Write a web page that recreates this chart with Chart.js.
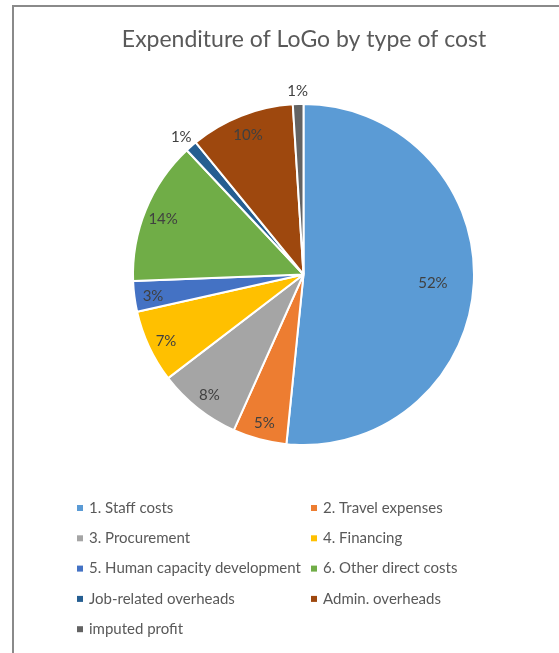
<!DOCTYPE html>
<html>
<head>
<meta charset="utf-8">
<script src="https://cdn.jsdelivr.net/npm/chart.js@4/dist/chart.umd.min.js"></script>
<style>
  html, body { margin: 0; padding: 0; background: #ffffff; }
  #wrap { width: 559px; height: 653px; }
</style>
</head>
<body>
<div id="wrap"><canvas id="c" width="559" height="653"></canvas></div>
<script>
const chartTitle = "Expenditure of LoGo by type of cost";
const categories = [
  "1. Staff costs",
  "2. Travel expenses",
  "3. Procurement",
  "4. Financing",
  "5. Human capacity development",
  "6. Other direct costs",
  "Job-related overheads",
  "Admin. overheads",
  "imputed profit"
];
const shareValues = [51.6, 5.1, 7.9, 6.9, 2.9, 13.6, 1.1, 9.9, 1.0];
const sliceColors = ["#5B9BD5", "#ED7D31", "#A5A5A5", "#FFC000", "#4472C4", "#70AD47", "#255E91", "#9E480E", "#636363"];

const FONT = "Lato, 'Open Sans', 'Liberation Sans', sans-serif";

const framePlugin = {
  id: 'frame',
  beforeDraw(chart) {
    const ctx = chart.ctx;
    ctx.save();
    ctx.fillStyle = '#ffffff';
    ctx.fillRect(0, 0, chart.width, chart.height);
    ctx.strokeStyle = '#8a8a8a';
    ctx.lineWidth = 2;
    ctx.strokeRect(13, 6, chart.width + 20, chart.height + 20);
    ctx.restore();
  }
};

const textPlugin = {
  id: 'texts',
  afterDatasetsDraw(chart) {
    const ctx = chart.ctx;
    const meta = chart.getDatasetMeta(0);
    const data = chart.data.datasets[0].data;
    const total = data.reduce((a, b) => a + b, 0);
    ctx.save();
    // data labels
    ctx.font = "15px " + FONT;
    ctx.fillStyle = '#404040';
    ctx.textAlign = 'center';
    ctx.textBaseline = 'middle';
    meta.data.forEach((arc, i) => {
      const p = arc.getProps(['x', 'y', 'startAngle', 'endAngle', 'outerRadius'], true);
      const mid = (p.startAngle + p.endAngle) / 2;
      const pct = data[i] / total * 100;
      let r;
      if (pct < 2) r = p.outerRadius + 15;
      else if (pct > 40) r = p.outerRadius * 0.76;
      else r = p.outerRadius * 0.89;
      const x = p.x + Math.cos(mid) * r;
      const y = p.y + Math.sin(mid) * r + 2;
      ctx.fillText(Math.round(pct) + '%', x, y);
    });
    // title
    ctx.font = "23px " + FONT;
    ctx.fillStyle = '#595959';
    ctx.fillText(chart.options.plugins.customTitle.text, 304, 40);
    // legend
    ctx.font = "15px " + FONT;
    ctx.textAlign = 'left';
    const labels = chart.data.labels;
    const colors = chart.data.datasets[0].backgroundColor;
    labels.forEach((lab, i) => {
      const col = i % 2, row = Math.floor(i / 2);
      const mx = col === 0 ? 77 : 311;
      const y = 508 + row * 30.3;
      ctx.fillStyle = colors[i];
      ctx.fillRect(mx, y - 3, 6, 6);
      ctx.fillStyle = '#595959';
      ctx.fillText(lab, mx + 12, y);
    });
    ctx.restore();
  }
};

new Chart(document.getElementById('c'), {
  type: 'pie',
  data: {
    labels: categories,
    datasets: [{
      data: shareValues,
      backgroundColor: sliceColors,
      borderColor: '#ffffff',
      borderWidth: 2
    }]
  },
  options: {
    responsive: false,
    animation: false,
    layout: { padding: { left: 132, right: 84, top: 103, bottom: 207 } },
    plugins: {
      legend: { display: false },
      tooltip: { enabled: false },
      customTitle: { text: chartTitle }
    }
  },
  plugins: [framePlugin, textPlugin]
});
</script>
</body>
</html>
